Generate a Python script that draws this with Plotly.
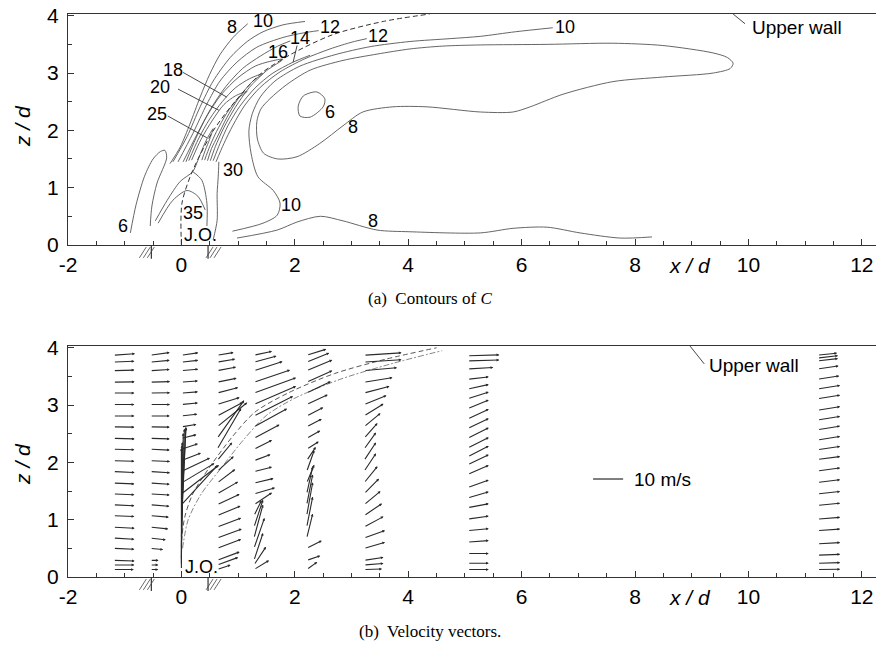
import plotly.graph_objects as go

# ---------------- axes ----------------
X_RANGE = [-2.0, 12.25]
Z_RANGE = [0.0, 4.03]
X_TICK_VALUES = [-2, 0, 2, 4, 6, 8, 10, 12]
X_TICK_TEXT = ["-2", "0", "2", "4", "6", "8", "10", "12"]
Z_TICK_VALUES = [0, 1, 2, 3, 4]
Z_TICK_TEXT = ["0", "1", "2", "3", "4"]

# ---------------- (a) contours of C : (x/d, z/d) ----------------
TRAJECTORY_A = [(0.0, 0.0), (0.01, 0.73), (0.2, 1.3), (0.56, 1.99), (0.91, 2.46), (1.39, 2.98),
                (1.92, 3.32), (2.67, 3.67), (3.56, 3.9), (4.38, 4.03)]
C8_UPPER = [(-0.20, 1.42), (-0.02, 1.71), (0.15, 2.11), (0.33, 2.58), (0.50, 2.98), (0.68, 3.32),
            (0.91, 3.62), (1.17, 3.86)]
C10_UPPER = [(-0.15, 1.45), (0.10, 1.89), (0.33, 2.41), (0.56, 2.86), (0.86, 3.27), (1.16, 3.55),
             (1.44, 3.72), (1.79, 3.84), (2.18, 3.90)]
C12_UPPER = [(-0.06, 1.45), (0.20, 1.94), (0.45, 2.46), (0.68, 2.86), (0.98, 3.19), (1.33, 3.45),
             (1.79, 3.62), (2.15, 3.70), (2.42, 3.74)]
C14_UPPER = [(0.03, 1.45), (0.27, 1.92), (0.52, 2.38), (0.78, 2.76), (1.08, 3.08), (1.40, 3.30),
             (1.70, 3.47), (1.92, 3.56)]
C16_TONGUE = [(0.08, 1.45), (0.25, 1.85), (0.45, 2.25), (0.70, 2.62), (1.00, 2.92), (1.30, 3.12),
              (1.55, 3.20), (1.79, 3.24), (1.50, 3.04), (1.20, 2.75), (0.95, 2.40), (0.75, 2.05),
              (0.60, 1.72), (0.51, 1.47)]
C18_TONGUE = [(0.13, 1.47), (0.30, 1.85), (0.50, 2.20), (0.72, 2.50), (0.95, 2.74), (1.20, 2.90),
              (1.44, 2.99), (1.25, 2.85), (1.00, 2.55), (0.80, 2.22), (0.64, 1.90), (0.53, 1.68),
              (0.46, 1.47)]
C20_TONGUE = [(0.18, 1.48), (0.35, 1.85), (0.55, 2.18), (0.75, 2.45), (0.95, 2.60), (1.16, 2.68),
              (1.00, 2.56), (0.80, 2.30), (0.62, 1.98), (0.50, 1.72), (0.41, 1.48)]
C25_TONGUE = [(-0.46, 0.42), (-0.25, 0.78), (-0.02, 1.11), (0.20, 1.28), (0.33, 1.58), (0.45, 1.85),
              (0.56, 2.03), (0.50, 1.85), (0.42, 1.65), (0.36, 1.48)]
C30_ARCH = [(0.20, 1.28), (0.36, 1.13), (0.45, 0.73), (0.45, 0.33)]
C35_ARCH = [(-0.41, 0.38), (-0.15, 0.78), (0.10, 0.95), (0.29, 0.85), (0.42, 0.61)]
C30_RIGHT = [(0.66, 1.45), (0.65, 1.20), (0.63, 0.90), (0.63, 0.43), (0.56, 0.09)]
C6_LEFT = [(-0.90, 0.21), (-0.80, 0.70), (-0.65, 1.20), (-0.50, 1.50), (-0.37, 1.63), (-0.29, 1.65),
           (-0.26, 1.52), (-0.43, 1.08), (-0.52, 0.68), (-0.55, 0.33)]
C14_LOWER = [(0.56, 1.47), (0.68, 1.77), (0.82, 2.08), (1.03, 2.42), (1.30, 2.74), (1.60, 2.99),
             (1.97, 3.19), (2.27, 3.31)]
C12_LOWER = [(0.61, 1.45), (0.75, 1.77), (0.91, 2.09), (1.12, 2.44), (1.39, 2.75), (1.74, 3.02),
             (2.18, 3.25), (2.62, 3.42), (3.01, 3.54), (3.27, 3.60)]
C10_LOWER = [(0.90, 0.24), (1.44, 0.38), (1.69, 0.52), (1.74, 0.73), (1.62, 0.95), (1.35, 1.19),
             (1.23, 1.59), (1.19, 1.99), (1.25, 2.29), (1.39, 2.58), (1.65, 2.86), (2.09, 3.12),
             (2.71, 3.32), (3.33, 3.46), (4.03, 3.55), (4.74, 3.60), (5.27, 3.64), (5.89, 3.72),
             (6.55, 3.79)]
C8_LOOP = [(1.70, 1.50), (1.45, 1.60), (1.34, 1.85), (1.33, 2.15), (1.40, 2.37), (1.56, 2.55),
           (1.86, 2.80), (2.27, 3.05), (2.85, 3.22), (3.45, 3.33), (4.03, 3.42), (4.61, 3.47),
           (5.27, 3.49), (6.45, 3.50), (7.61, 3.52), (8.49, 3.48), (9.38, 3.35), (9.63, 3.27),
           (9.73, 3.17), (9.68, 3.08), (9.38, 3.00), (8.49, 2.93), (7.61, 2.85), (6.73, 2.63),
           (6.15, 2.41), (5.85, 2.32), (5.27, 2.32), (4.33, 2.41), (3.73, 2.41), (3.20, 2.32),
           (2.85, 2.08), (2.44, 1.77), (2.04, 1.54), (1.70, 1.50)]
C6_ISLAND = [(2.15, 2.60), (2.39, 2.67), (2.53, 2.55), (2.50, 2.41), (2.27, 2.23), (2.09, 2.25),
             (2.06, 2.42), (2.15, 2.60)]
C8_BOTTOM = [(0.98, 0.12), (1.69, 0.26), (2.04, 0.40), (2.45, 0.50), (2.85, 0.42), (3.45, 0.26),
             (4.03, 0.23), (5.27, 0.21), (5.85, 0.29), (6.45, 0.31), (7.03, 0.21), (7.74, 0.12),
             (8.30, 0.14)]
CONTOURS_A = [C8_UPPER, C10_UPPER, C12_UPPER, C14_UPPER, C16_TONGUE, C18_TONGUE, C20_TONGUE,
              C25_TONGUE, C30_ARCH, C35_ARCH, C30_RIGHT, C6_LEFT, C14_LOWER, C12_LOWER,
              C10_LOWER, C8_LOOP, C6_ISLAND, C8_BOTTOM]

LEADERS_A = [[(0.03, 3.01), (0.80, 2.58)], [(-0.06, 2.72), (0.66, 2.35)],
             [(-0.24, 2.25), (0.45, 1.87)], [(2.04, 3.48), (1.97, 3.19)],
             [(9.73, 4.03), (9.94, 3.86)]]
LABEL_TEXT_A = ["8", "10", "12", "14", "16", "18", "20", "25", "12", "10", "6", "8", "30", "35",
                "10", "8", "6", "J.O."]
LABEL_X_A = [0.89, 1.44, 2.62, 2.09, 1.70, -0.15, -0.38, -0.43, 3.47, 6.77, 2.62, 3.03, 0.91, 0.20,
             1.93, 3.38, -1.03, 0.33]
LABEL_Z_A = [3.81, 3.90, 3.81, 3.62, 3.36, 3.06, 2.75, 2.29, 3.64, 3.81, 2.32, 2.06, 1.30, 0.55,
             0.69, 0.42, 0.33, 0.17]

# ---------------- (b) velocity vectors (u, w in m/s) ----------------
VEC_SCALE = 0.053          # x/d per m/s (10 m/s key)
KEY_SPEED = 10
COLUMN_X = [-1.2, -0.55, 0.0, 0.63, 1.28, 2.21, 3.22, 5.05, 11.22]
Z_STD = [3.87, 3.75, 3.60, 3.40, 3.21, 3.01, 2.81, 2.62, 2.42, 2.23, 2.03, 1.84, 1.64, 1.45, 1.26,
         1.07, 0.87, 0.68, 0.50, 0.29, 0.21, 0.13]
U_A = [7.2, 7.0, 7.0, 7.1, 7.0, 7.0, 7.0, 7.0, 7.1, 7.0, 7.0, 7.1, 7.0, 7.0, 7.0, 7.0, 7.1, 7.0, 7.0, 7.1, 7.0, 6.8]
W_A = [0.5, 0.3, 0.2, 0.1, 0.0, 0.0, 0.0, -0.1, -0.2, -0.2, -0.2, -0.3, -0.3, -0.3, -0.3, -0.3, -0.4, -0.4, -0.3, -0.2, 0.0, 0.0]
U_B = [6.5, 6.5, 6.5, 6.6, 6.6, 6.6, 6.5, 6.5, 6.5, 6.5, 6.6, 6.6, 6.5, 6.5, 6.4, 6.2, 6.0, 5.2, 4.3, 2.8, 2.7, 2.7]
W_B = [0.9, 0.6, 0.4, 0.2, 0.1, 0.0, 0.0, -0.1, -0.2, -0.3, -0.3, -0.4, -0.4, -0.4, -0.5, -0.5, -0.6, -0.6, -0.4, 0.0, 0.0, 0.0]
U_C = [5.6, 5.6, 5.6, 5.5, 5.5, 5.5, 5.3, 5.0, 5.0, 5.5, 6.5, 9.5, 11.0, 12.5, 12.0, 1.5, 1.5, 1.0, 0.6, 0.3, 0.2, 0.0]
W_C = [0.8, 0.6, 0.5, 0.4, 0.4, 0.5, 0.6, 0.8, 1.2, 1.8, 2.5, 4.5, 6.5, 9.5, 13.0, 29.0, 33.0, 36.0, 38.0, 39.0, 39.5, 40.0]
U_D = [5.5, 6.0, 6.3, 6.5, 7.0, 7.5, 8.5, 10.0, 9.0, 8.0, 5.0, 5.5, 6.0, 7.0, 7.5, 7.8, 8.0, 8.2, 8.0, 7.5, 7.0, 4.5]
W_D = [0.9, 1.0, 1.2, 1.3, 1.8, 2.3, 4.5, 8.0, 12.5, 13.5, 6.0, 5.0, 4.5, 4.0, 3.5, 3.2, 3.0, 3.0, 3.0, 2.8, 2.5, 1.5]
U_E = [6.0, 7.5, 9.5, 12.0, 14.0, 14.0, 13.0, 11.0, 8.5, 6.0, 5.5, 6.0, 6.5, 7.0, 6.0, 2.5, 3.0, 3.0, 3.5, 3.0, 4.0, 5.0]
W_E = [1.3, 2.0, 3.0, 4.0, 5.0, 6.0, 6.5, 6.0, 4.5, 3.0, 2.0, 1.5, 1.5, 2.0, 4.0, 5.0, 9.0, 11.0, 10.0, 9.0, 6.0, 3.0]
U_F = [6.5, 7.5, 8.5, 8.5, 8.0, 7.0, 5.5, 5.0, 4.5, 4.0, 3.0, 2.5, 2.5, 2.0, 2.0, 2.0, 2.0, 2.0, 5.0, 4.5, None, 3.5]
W_F = [2.0, 3.0, 3.5, 3.8, 3.8, 3.2, 2.8, 2.6, 2.5, 2.5, 4.5, 7.0, 6.0, 9.0, 10.0, 11.0, 10.0, 8.0, 2.5, 1.5, None, 2.5]
U_G = [12.5, 12.5, 11.0, 9.5, 8.5, 7.5, 6.5, 5.5, 4.5, 4.0, 4.0, 4.0, 4.5, 5.0, 5.5, 6.0, 6.5, 7.0, 7.0, 6.5, 6.5, 6.0]
W_G = [0.8, 0.8, 1.0, 1.5, 2.2, 3.0, 4.0, 4.5, 5.0, 5.5, 6.0, 6.0, 5.5, 5.0, 4.5, 4.0, 3.5, 2.5, 2.0, 1.0, 0.5, 0.2]
Z_H = [3.86, 3.77, 3.63, 3.45, 3.28, 3.11, 2.94, 2.76, 2.59, 2.42, 2.25, 2.10, 1.96, 1.79, 1.56, 1.38,
       1.21, 1.01, 0.81, 0.61, 0.41, 0.24, 0.13]
U_H = [10.5, 10.5, 8.5, 7.0, 7.0, 7.0, 7.0, 7.0, 7.0, 7.0, 7.0, 7.0, 7.0, 7.0, 7.0, 7.0, 7.0, 7.0, 7.0, 7.0, 7.0, 7.0, 7.0]
W_H = [0.3, 0.3, 0.5, 0.8, 1.5, 2.2, 2.8, 3.2, 3.3, 3.5, 3.5, 3.5, 3.3, 3.0, 2.5, 2.0, 1.3, 1.0, 0.6, 0.5, 0.0, 0.0, 0.0]
Z_I = [3.87, 3.82, 3.77, 3.63, 3.45, 3.28, 3.11, 2.91, 2.74, 2.57, 2.39, 2.22, 2.05, 1.85, 1.65, 1.45,
       1.25, 1.01, 0.81, 0.58, 0.38, 0.24, 0.13]
U_I = [6.5, 6.8, 6.8, 7.0, 7.2, 7.5, 7.5, 7.5, 7.5, 7.5, 7.5, 7.5, 7.5, 7.5, 7.5, 7.5, 7.5, 7.5, 7.5, 7.5, 7.5, 7.5, 7.5]
W_I = [0.7, 0.8, 0.8, 1.0, 1.1, 1.2, 1.2, 1.2, 1.2, 1.2, 1.2, 1.1, 1.0, 1.0, 0.9, 0.8, 0.7, 0.6, 0.5, 0.4, 0.3, 0.2, 0.1]
COLUMN_Z = [Z_STD, Z_STD, Z_STD, Z_STD, Z_STD, Z_STD, Z_STD, Z_H, Z_I]
COLUMN_U = [U_A, U_B, U_C, U_D, U_E, U_F, U_G, U_H, U_I]
COLUMN_W = [W_A, W_B, W_C, W_D, W_E, W_F, W_G, W_H, W_I]

TRAJECTORY_B = [(0.0, 0.62), (0.06, 1.05), (0.2, 1.45), (0.5, 1.92), (0.9, 2.45), (1.3, 2.88),
                (1.9, 3.22), (2.7, 3.55), (3.6, 3.8), (4.5, 4.0)]
TRAJECTORY_B2 = [(0.02, 0.5), (0.12, 1.0), (0.35, 1.45), (0.7, 1.9), (1.1, 2.4), (1.5, 2.82),
                 (2.0, 3.12), (2.8, 3.45), (3.7, 3.72), (4.6, 3.95)]
WALL_LEADER_B = [(8.97, 4.03), (9.22, 3.72)]
ORIFICE_EDGES = [-0.53, 0.47]

# ---------------- figure ----------------
INK = "#2a2a2a"
LINE = "#555555"
SANS = "Liberation Sans"
SERIF = "Liberation Serif"
fig = go.Figure()


def add_line(pts, xa, ya, color=LINE, width=0.9, dash="solid", shape="spline"):
    fig.add_trace(go.Scatter(x=[p[0] for p in pts], y=[p[1] for p in pts], mode="lines",
                             xaxis=xa, yaxis=ya, line=dict(color=color, width=width, dash=dash,
                                                           shape=shape, smoothing=0.8),
                             hoverinfo="skip", showlegend=False))


for c in CONTOURS_A:
    add_line(c, "x", "y")
add_line(TRAJECTORY_A, "x", "y", color="#333", width=1.0, dash="5px,3px")
for ld in LEADERS_A:
    add_line(ld, "x", "y", color="#333", width=0.9, shape="linear")

add_line(TRAJECTORY_B, "x2", "y2", color="#444", width=0.9, dash="5px,3px")
add_line(TRAJECTORY_B2, "x2", "y2", color="#666", width=0.8, dash="6px,2px,2px,2px")
add_line(WALL_LEADER_B, "x2", "y2", color="#333", width=0.9, shape="linear")
add_line([(7.26, 1.71), (7.26 + KEY_SPEED * VEC_SCALE, 1.71)], "x2", "y2", color=INK, width=1.2,
         shape="linear")


def txt(x, y, text, xref, yref, size, family=SANS, **kw):
    d = dict(x=x, y=y, xref=xref, yref=yref, text=text, showarrow=False,
             xanchor="center", yanchor="middle",
             font=dict(family=family, size=size, color="black"))
    d.update(kw)
    return d


annotations = []
for t, x, z in zip(LABEL_TEXT_A, LABEL_X_A, LABEL_Z_A):
    annotations.append(txt(x, z, t, "x", "y", 18))
annotations.append(txt(10.02, 3.80, "Upper wall", "x", "y", 19, xanchor="left"))
annotations.append(txt(9.27, 3.69, "Upper wall", "x2", "y2", 19, xanchor="left"))
annotations.append(txt(7.95, 1.71, "10 m/s", "x2", "y2", 19, xanchor="left"))
annotations.append(txt(0.35, 0.17, "J.O.", "x2", "y2", 18))

# velocity vectors as arrows
for cx, zs, us, ws in zip(COLUMN_X, COLUMN_Z, COLUMN_U, COLUMN_W):
    for z, u, w in zip(zs, us, ws):
        if u is None:
            continue
        annotations.append(dict(x=cx + u * VEC_SCALE, y=z + w * VEC_SCALE, ax=cx, ay=z,
                                xref="x2", yref="y2", axref="x2", ayref="y2", text="",
                                showarrow=True, arrowhead=2, arrowsize=0.5, arrowwidth=1.1,
                                arrowcolor=INK, standoff=0, startstandoff=0))

# axis titles and captions
for yy in [0.5528, -0.037]:
    annotations.append(txt(8.97, yy, "<i>x / d</i>", "x", "paper", 21))
for yy in [0.801, 0.2007]:
    annotations.append(txt(-0.057, yy, "<i>z / d</i>", "paper", "paper", 21, textangle=-90))
annotations.append(txt(0.448, 0.4947, "(a)  Contours of <i>C</i>", "paper", "paper", 17,
                       family=SERIF))
annotations.append(txt(0.448, -0.0968, "(b)  Velocity vectors.", "paper", "paper", 17,
                       family=SERIF))

# hatched wall symbols below the axis at the orifice edges
PLOT_W_PX, PLOT_H_PX = 808.0, 233.0
shapes = []


def xf(x):
    return (x - X_RANGE[0]) / (X_RANGE[1] - X_RANGE[0])


for xa, ya in [("x", "y"), ("x2", "y2")]:
    for i, edge in enumerate(ORIFICE_EDGES):
        e = xf(edge)
        sgn = -1 if i == 0 else 1
        shapes.append(dict(type="line", xref=xa + " domain", yref=ya + " domain",
                           x0=e, x1=e, y0=0, y1=-14 / PLOT_H_PX,
                           line=dict(color="#333", width=1.2)))
        for k in range(3):
            a = sgn * (1 + 4 * k) / PLOT_W_PX
            shapes.append(dict(type="line", xref=xa + " domain", yref=ya + " domain",
                               x0=e + a - 3 / PLOT_W_PX, x1=e + a + 4 / PLOT_W_PX,
                               y0=-13 / PLOT_H_PX, y1=-2 / PLOT_H_PX,
                               line=dict(color="#444", width=0.8)))

axis_common = dict(showline=True, linecolor="#333", linewidth=1.3, ticks="inside", ticklen=6,
                   tickwidth=1, tickcolor="#333", showgrid=False, zeroline=False,
                   tickfont=dict(family=SANS, size=21, color="black"))
xaxis = dict(axis_common, range=X_RANGE, tickmode="array", tickvals=X_TICK_VALUES,
             ticktext=X_TICK_TEXT, mirror=True, ticklabelstandoff=1,
             minor=dict(tickmode="linear", tick0=0, dtick=0.5, ticks="inside", ticklen=4,
                        tickcolor="#333", showgrid=False))
yaxis = dict(axis_common, range=Z_RANGE, tickmode="array", tickvals=Z_TICK_VALUES,
             ticktext=Z_TICK_TEXT, ticklabelstandoff=4,
             minor=dict(tickmode="linear", tick0=0, dtick=0.5, ticks="inside", ticklen=4,
                        tickcolor="#333", showgrid=False))

fig.update_layout(
    width=880, height=647, margin=dict(l=68, r=4, t=9, b=70),
    paper_bgcolor="white", plot_bgcolor="white", showlegend=False,
    xaxis=dict(xaxis, domain=[0, 1], anchor="y"),
    yaxis=dict(yaxis, domain=[0.5898, 1.0], anchor="x"),
    xaxis2=dict(xaxis, domain=[0, 1], anchor="y2"),
    yaxis2=dict(yaxis, domain=[0.0, 0.4102], anchor="x2"),
    annotations=annotations, shapes=shapes,
)

fig.write_html("out.html", config={"displayModeBar": False},
               post_script="document.body.style.margin='0';document.body.style.overflow='hidden';")
